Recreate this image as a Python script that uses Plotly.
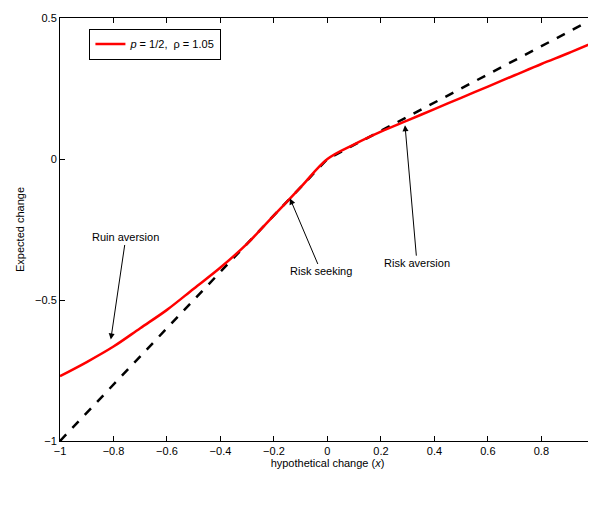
import plotly.graph_objects as go

x_vals = [-1, -0.9, -0.8, -0.7, -0.6, -0.5, -0.4, -0.3, -0.2, -0.1, 0, 0.1, 0.2, 0.3, 0.4, 0.5, 0.6, 0.7, 0.8, 0.9, 1]
y_red = [-0.77, -0.72, -0.665, -0.6, -0.535, -0.46, -0.385, -0.3, -0.2, -0.1, 0, 0.052, 0.097, 0.137, 0.177, 0.217, 0.257, 0.297, 0.337, 0.375, 0.415]
x_dash = [-1, 0, 1]
y_dash = [-1, 0, 0.5]
xticks = [-1, -0.8, -0.6, -0.4, -0.2, 0, 0.2, 0.4, 0.6, 0.8, 1]
yticks = [-1, -0.5, 0, 0.5]

fig = go.Figure()
fig.add_trace(go.Scatter(x=x_dash, y=y_dash, mode="lines", line=dict(color="black", width=2.5, dash="dash"), showlegend=False))
fig.add_trace(go.Scatter(x=x_vals, y=y_red, mode="lines", line=dict(color="red", width=2.5, shape="spline"),
                         name="<i>p</i> = 1/2,  ρ = 1.05"))

ann = [("Ruin aversion", -0.81, -0.64, 15, -102),
       ("Risk seeking", -0.14, -0.14, 31, 73),
       ("Risk aversion", 0.29, 0.12, 12, 138)]
for t, ax_, ay_, dx, dy in ann:
    fig.add_annotation(x=ax_, y=ay_, text=t, ax=dx, ay=dy, showarrow=True, arrowhead=2,
                       arrowsize=1.2, arrowwidth=1, arrowcolor="black", font=dict(size=11, color="black"))
fig.add_annotation(x=0.105, y=-0.17, xref="paper", yref="paper", yanchor="top", showarrow=False,
                   text="(a)", font=dict(size=14, color="black"))

axis = dict(showgrid=False, zeroline=False, ticks="inside", mirror="ticks", showline=True,
            linecolor="black", linewidth=1, tickcolor="black", ticklen=5, tickfont=dict(size=11, color="black"))
fig.update_layout(
    width=596, height=513, plot_bgcolor="white", paper_bgcolor="white",
    font=dict(family="Liberation Sans, Arial", color="black"),
    margin=dict(l=52, r=9, t=10, b=80, autoexpand=False),
    xaxis=dict(axis, range=[-1, 1.0005], tickvals=xticks, ticktext=[str(v).replace("-", "−") for v in xticks],
               title=dict(text="hypothetical change (<i>x</i>)", font=dict(size=11), standoff=2)),
    yaxis=dict(axis, range=[-1, 0.5], tickvals=yticks, ticktext=["−1", "−0.5", "0", "0.5"],
               title=dict(text="Expected change", font=dict(size=11), standoff=8)),
    legend=dict(x=0.055, y=0.975, xanchor="left", yanchor="top", bordercolor="black", borderwidth=1,
                bgcolor="white", font=dict(size=11)),
)
fig.write_html("out.html")
